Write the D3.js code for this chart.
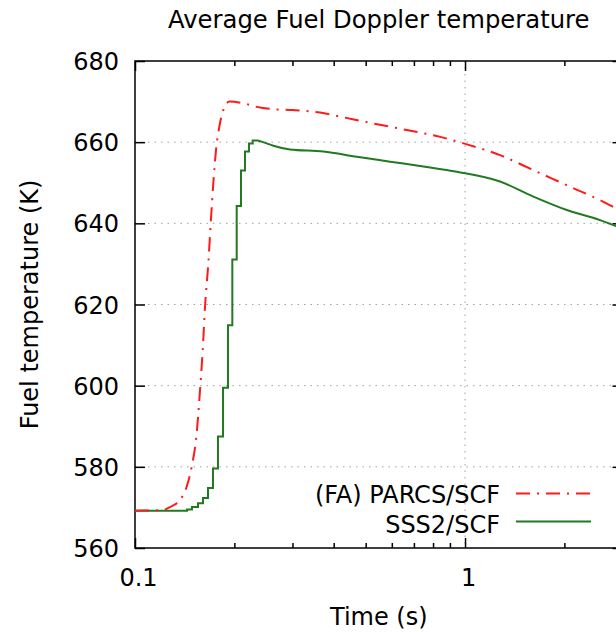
<!DOCTYPE html>
<html>
<head>
<meta charset="utf-8">
<script src="https://cdn.jsdelivr.net/npm/d3@7"></script>
<style>
    body { margin: 0; background: #fff; }
    svg { display: block; font-family: "DejaVu Sans", sans-serif; }
</style>
</head>
<body>
<div id="chart"></div>
<script>
// values
const seriesNames = ["(FA) PARCS/SCF", "SSS2/SCF"];

const parcsTime = [0.1, 0.1207, 0.1277, 0.1369, 0.1434, 0.1485, 0.1538, 0.1574, 0.1604, 0.1630, 0.1668,
    0.1696, 0.1727, 0.1760, 0.1801, 0.1852, 0.1931, 0.2129, 0.2337, 0.264, 0.3017, 0.3636, 0.418,
    0.528, 0.666, 0.84, 0.99, 1.277, 1.611, 2.033, 2.565, 2.869, 3.0];
const parcsTemp = [569.2, 569.3, 570.1, 571.8, 575.1, 580.0, 588.3, 598.9, 608.8, 619.5, 630.2,
    640.0, 649.9, 658.1, 663.8, 667.9, 670.0, 669.6, 668.7, 668.1, 667.9, 667.3, 666.3,
    664.6, 663.0, 661.3, 659.7, 656.8, 653.1, 649.4, 645.7, 643.7, 642.9];

// SSS2 has a stair-stepped rise, then a smooth decay
const sss2StepTime = [0.1, 0.1437, 0.1488, 0.1552, 0.1607, 0.1664, 0.1723, 0.1784, 0.1848, 0.1913,
    0.1972, 0.2033, 0.2095, 0.2154, 0.2215, 0.2273, 0.2359];
const sss2StepTemp = [569.2, 569.5, 570.1, 571.0, 572.3, 574.8, 579.6, 587.5, 599.5, 614.9,
    631.1, 644.3, 653.0, 657.7, 659.7, 660.4, 660.4];
const sss2Time = [0.2359, 0.2506, 0.2625, 0.295, 0.372, 0.470, 0.593, 0.748, 0.944, 1.277, 1.611,
    2.033, 2.565, 2.869, 3.0];
const sss2Temp = [660.4, 659.7, 659.1, 658.2, 657.7, 656.4, 655.2, 654.0, 652.7, 650.3, 646.6,
    643.3, 640.8, 639.3, 638.6];

const xMajorTicks = [0.1, 1];
const xMinorTicks = [0.2, 0.3, 0.4, 0.5, 0.6, 0.7, 0.8, 0.9, 2, 3];
const xTickLabels = ["0.1", "1"];
const yTicks = [560, 580, 600, 620, 640, 660, 680];

const width = 616;
const height = 632;
const margin = { top: 61, bottom: 84, left: 135, right: -6.5 };

const svg = d3.select('#chart')
    .append('svg')
    .attr('width', width)
    .attr('height', height);

const x = d3.scaleLog()
    .domain([0.1, 3])
    .range([margin.left, width - margin.right]);

const y = d3.scaleLinear()
    .domain([560, 680])
    .range([height - margin.bottom, margin.top]);

const x0 = x.range()[0], x1 = x.range()[1];
const yTop = y(680), yBot = y(560);

// grid
const grid = svg.append('g')
    .attr('stroke', '#a0a0a0')
    .attr('stroke-width', 1)
    .attr('stroke-dasharray', '1.5,5');
grid.selectAll('line.h')
    .data(yTicks.slice(1, -1))
    .join('line')
    .attr('class', 'h')
    .attr('x1', x0).attr('x2', x1)
    .attr('y1', d => y(d)).attr('y2', d => y(d));
grid.selectAll('line.v')
    .data([1])
    .join('line')
    .attr('class', 'v')
    .attr('x1', d => x(d)).attr('x2', d => x(d))
    .attr('y1', yTop).attr('y2', yBot);

function tidy(g) {
    g.select('.domain').remove();
    g.attr('font-size', 24).attr('font-family', '"DejaVu Sans", sans-serif');
    g.selectAll('.tick line').attr('stroke', '#000').attr('stroke-width', 1.5);
}

// axes, ticks pointing inward
svg.append('g')
    .attr('transform', `translate(0,${yBot})`)
    .call(d3.axisBottom(x).tickValues(xMajorTicks).tickSize(-10)
        .tickFormat((d, i) => xTickLabels[i]))
    .call(tidy)
    .call(g => g.selectAll('text').attr('y', 38).attr('dy', null).attr('dx', 3).attr('fill', '#000'));
svg.append('g')
    .attr('transform', `translate(0,${yBot})`)
    .call(d3.axisBottom(x).tickValues(xMinorTicks).tickSize(-5).tickFormat(''))
    .call(tidy);
svg.append('g')
    .attr('transform', `translate(0,${yTop})`)
    .call(d3.axisTop(x).tickValues(xMajorTicks).tickSize(-10).tickFormat(''))
    .call(tidy);
svg.append('g')
    .attr('transform', `translate(0,${yTop})`)
    .call(d3.axisTop(x).tickValues(xMinorTicks).tickSize(-5).tickFormat(''))
    .call(tidy);
svg.append('g')
    .attr('transform', `translate(${x0},0)`)
    .call(d3.axisLeft(y).tickValues(yTicks).tickSize(-10))
    .call(tidy)
    .call(g => g.selectAll('text').attr('x', -16).attr('dy', '0.36em').attr('fill', '#000'));
svg.append('g')
    .attr('transform', `translate(${x1},0)`)
    .call(d3.axisRight(y).tickValues(yTicks).tickSize(-10).tickFormat(''))
    .call(tidy);

// border
svg.append('rect')
    .attr('x', x0).attr('y', yTop)
    .attr('width', x1 - x0).attr('height', yBot - yTop)
    .attr('fill', 'none')
    .attr('stroke', '#000')
    .attr('stroke-width', 1.5);

// curves
const line = d3.line()
    .x(d => x(d[0]))
    .y(d => y(d[1]));

const red = '#ff1a1a';
const green = '#217a21';
const redDash = '14,7,2,7';

svg.append('path')
    .datum(sss2StepTime.map((t, i) => [t, sss2StepTemp[i]]))
    .attr('fill', 'none')
    .attr('stroke', green)
    .attr('stroke-width', 2)
    .attr('d', line.curve(d3.curveStepAfter));
svg.append('path')
    .datum(sss2Time.map((t, i) => [t, sss2Temp[i]]))
    .attr('fill', 'none')
    .attr('stroke', green)
    .attr('stroke-width', 2)
    .attr('d', line.curve(d3.curveMonotoneX));
svg.append('path')
    .datum(parcsTime.map((t, i) => [t, parcsTemp[i]]))
    .attr('fill', 'none')
    .attr('stroke', red)
    .attr('stroke-width', 2)
    .attr('stroke-dasharray', redDash)
    .attr('d', line.curve(d3.curveMonotoneX));

// legend
const legend = svg.append('g').attr('font-size', 24);
const legendRows = [
    { name: seriesNames[0], color: red, dash: redDash, ty: 503, ly: 493.5 },
    { name: seriesNames[1], color: green, dash: null, ty: 533, ly: 521.5 }
];
legendRows.forEach(r => {
    legend.append('text')
        .attr('x', 500).attr('y', r.ty)
        .attr('text-anchor', 'end')
        .text(r.name);
    legend.append('line')
        .attr('x1', 516).attr('x2', 591)
        .attr('y1', r.ly).attr('y2', r.ly)
        .attr('stroke', r.color)
        .attr('stroke-width', 2)
        .attr('stroke-dasharray', r.dash);
});

// titles
svg.append('text')
    .attr('x', (x0 + x1) / 2).attr('y', 28)
    .attr('text-anchor', 'middle')
    .attr('font-size', 24.3)
    .text('Average Fuel Doppler temperature');
svg.append('text')
    .attr('x', (x0 + x1) / 2).attr('y', 625)
    .attr('text-anchor', 'middle')
    .attr('font-size', 24)
    .text('Time (s)');
svg.append('text')
    .attr('transform', `translate(38,${(yTop + yBot) / 2}) rotate(-90)`)
    .attr('text-anchor', 'middle')
    .attr('font-size', 24)
    .text('Fuel temperature (K)');
</script>
</body>
</html>
